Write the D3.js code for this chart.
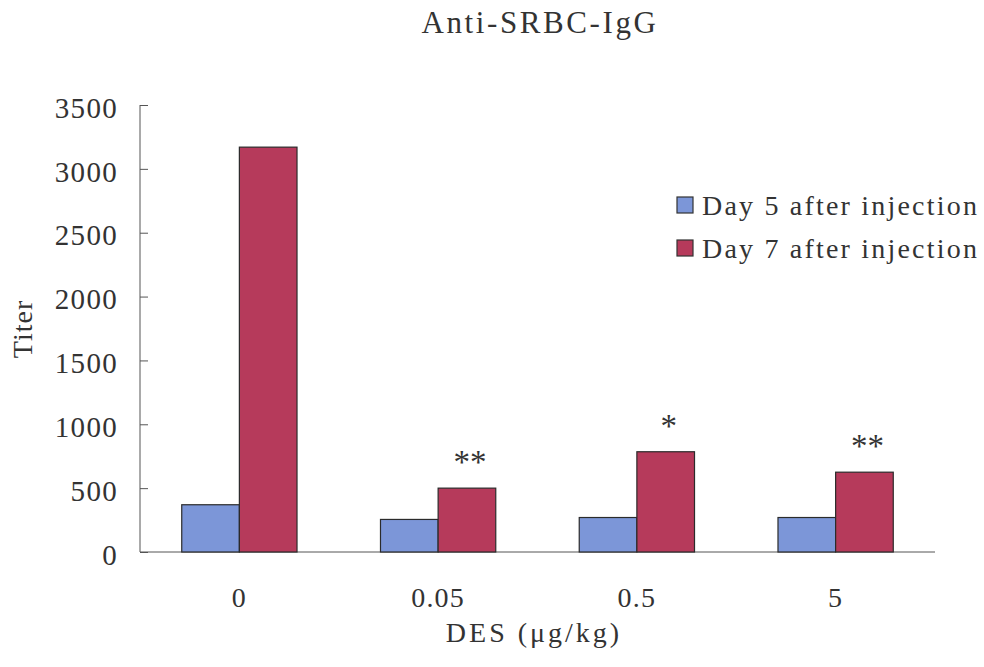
<!DOCTYPE html>
<html>
<head>
<meta charset="utf-8">
<script src="https://cdn.jsdelivr.net/npm/d3@7"></script>
<style>
  html, body { margin: 0; padding: 0; background: #fff; }
  svg text { font-family: "Liberation Serif", "DejaVu Serif", serif; fill: #333; }
</style>
</head>
<body>
<svg id="chart" width="984" height="667"></svg>
<script>
// Anti-SRBC IgG titer by DES dose
const doses = ["0", "0.05", "0.5", "5"];
const seriesNames = ["Day 5 after injection", "Day 7 after injection"];
const day5 = [370, 255, 270, 270];
const day7 = [3170, 500, 785, 625];
const marks = ["", "**", "*", "**"];
const yTicks = [0, 500, 1000, 1500, 2000, 2500, 3000, 3500];
const colors = ["#7c96d8", "#b63a5b"];

const svg = d3.select("#chart");
const plotLeft = 140, plotRight = 935, plotTop = 105, plotBottom = 552;

const x = d3.scaleBand().domain(doses).range([plotLeft, plotRight])
  .paddingInner(0.42).paddingOuter(0.21);
const xs = d3.scaleBand().domain([0, 1]).range([0, x.bandwidth()]);
const y = d3.scaleLinear().domain([0, 3500]).range([plotBottom, plotTop]);

// Title
svg.append("text").attr("x", 540).attr("y", 33)
  .attr("text-anchor", "middle").attr("font-size", 31)
  .attr("letter-spacing", 2.6)
  .text("Anti-SRBC-IgG");

// Y axis (inward ticks)
const yAxis = svg.append("g").attr("transform", `translate(${plotLeft},0)`)
  .call(d3.axisLeft(y).tickValues(yTicks).tickSize(-8).tickPadding(22).tickFormat(d3.format("d")));
yAxis.selectAll("path, line").attr("stroke", "#555").attr("stroke-width", 1);
yAxis.select(".domain").attr("d", `M0,${plotTop}V${plotBottom}`);
yAxis.selectAll("text")
  .attr("font-size", 29).attr("letter-spacing", 1.3)
  .attr("font-family", "Liberation Serif").attr("fill", "#333")
  .attr("dy", "0.42em");

// X axis baseline
svg.append("line").attr("x1", plotLeft).attr("x2", plotRight)
  .attr("y1", plotBottom).attr("y2", plotBottom).attr("stroke", "#555");

// X tick labels
svg.append("g").selectAll("text").data(doses).join("text")
  .attr("x", d => x(d) + x.bandwidth() / 2)
  .attr("y", 607).attr("text-anchor", "middle")
  .attr("font-size", 28).attr("letter-spacing", 1.2)
  .text(d => d);

// Bars
const groups = svg.append("g").selectAll("g").data(doses).join("g")
  .attr("transform", d => `translate(${x(d)},0)`);
groups.selectAll("rect")
  .data((d, i) => [day5[i], day7[i]].map((v, s) => ({ v, s })))
  .join("rect")
  .attr("x", d => xs(d.s))
  .attr("width", xs.bandwidth())
  .attr("y", d => y(d.v))
  .attr("height", d => y(0) - y(d.v))
  .attr("fill", d => colors[d.s])
  .attr("stroke", "#2b2b2b").attr("stroke-width", 1.2);

// Significance markers
svg.append("g").selectAll("text").data(doses).join("text")
  .attr("x", (d, i) => x(d) + xs(1) + xs.bandwidth() / 2 + 3)
  .attr("y", (d, i) => y(day7[i]) - 15)
  .attr("text-anchor", "middle").attr("font-size", 33)
  .attr("font-family", "DejaVu Sans").attr("fill", "#333")
  .text((d, i) => marks[i]);

// Legend
const legend = svg.append("g").attr("transform", "translate(677,197)");
seriesNames.forEach((name, i) => {
  const g = legend.append("g").attr("transform", `translate(0,${i * 43})`);
  g.append("rect").attr("width", 16).attr("height", 16)
    .attr("fill", colors[i]).attr("stroke", "#333").attr("stroke-width", 1.2);
  g.append("text").attr("x", 25).attr("y", 18)
    .attr("font-size", 28).attr("letter-spacing", 2.2)
    .text(name);
});

// Axis titles
svg.append("text").attr("transform", "translate(32,329) rotate(-90)")
  .attr("text-anchor", "middle").attr("font-size", 28)
  .attr("letter-spacing", 1).text("Titer");
svg.append("text").attr("x", 534).attr("y", 642)
  .attr("text-anchor", "middle").attr("font-size", 28)
  .attr("letter-spacing", 3).text("DES (μg/kg)");
</script>
</body>
</html>
